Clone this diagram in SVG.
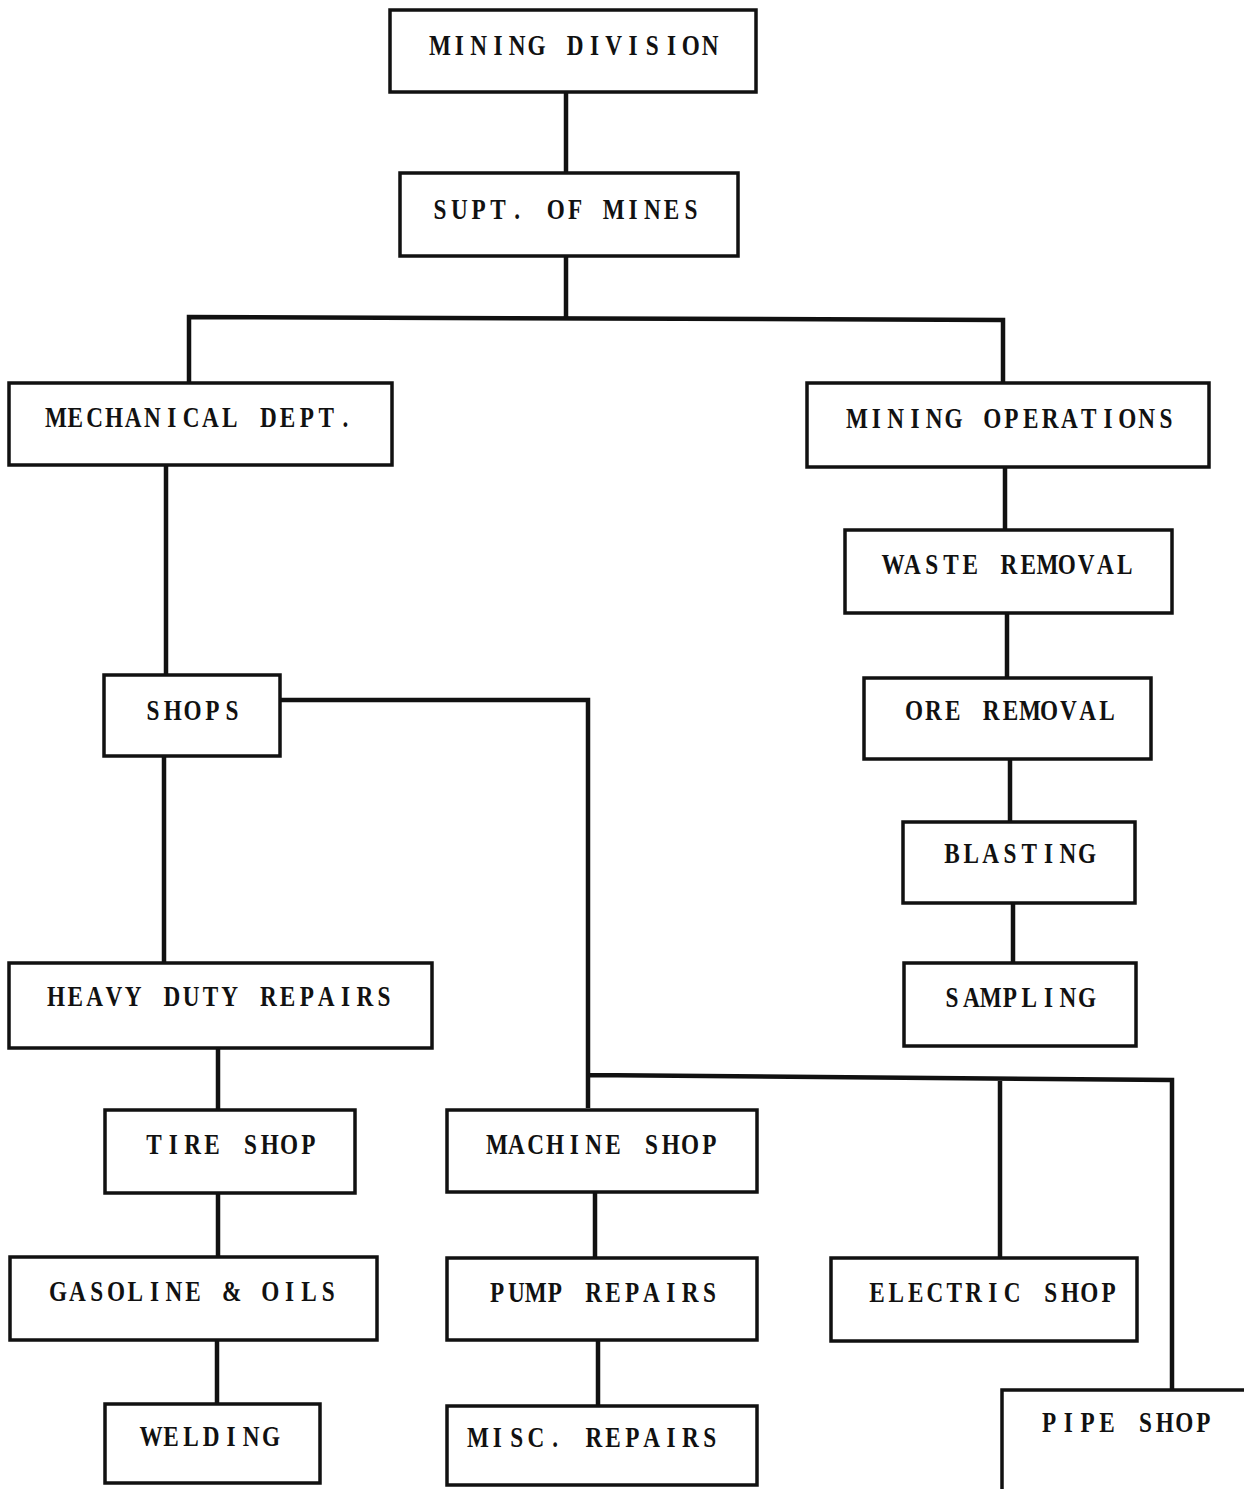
<svg xmlns="http://www.w3.org/2000/svg" width="1244" height="1489" viewBox="0 0 1244 1489">
<style>
.b{fill:#fff;stroke:#111;stroke-width:3.5}
.t{font-family:"Liberation Serif","Times New Roman",serif;font-weight:bold;font-size:29px;fill:#111;text-anchor:middle}
.c{fill:none;stroke:#111;stroke-width:4.5;stroke-linejoin:miter}
</style>
<rect width="1244" height="1489" fill="#fff"/>
<g id="connectors">
<path class="c" d="M566 92V173"/>
<path class="c" d="M566 256V318M189 383V317L1003 320V383"/>
<path class="c" d="M1005 467V530M1007 613V678M1010 759V822M1013 903V963"/>
<path class="c" d="M166 465V675M164 756V963"/>
<path class="c" d="M280 700H588V1108M588 1075L1172 1080V1390M1000 1078V1258"/>
<path class="c" d="M218 1048V1110M218 1193V1257M217 1340V1404"/>
<path class="c" d="M595 1192V1258M598 1340V1406"/>
</g>
<g id="n1"><rect class="b" x="390" y="10" width="366" height="82"/><text class="t" transform="scale(0.8,1)" y="55" x="550 574.1 598.3 622.4 646.5 670.6 694.8 718.9 743 767.1 791.3 815.4 839.5 863.6 887.8">MINING DIVISION</text></g>
<g id="n2"><rect class="b" x="400" y="173" width="338" height="83"/><text class="t" transform="scale(0.8,1)" y="219" x="550 574.1 598.3 622.4 646.5 670.6 694.8 718.9 743 767.1 791.3 815.4 839.5 863.6">SUPT. OF MINES</text></g>
<g id="n3"><rect class="b" x="9" y="383" width="383" height="82"/><text class="t" transform="scale(0.8,1)" y="427" x="70 94.1 118.3 142.4 166.5 190.6 214.8 238.9 263 287.1 311.3 335.4 359.5 383.6 407.8 431.9">MECHANICAL DEPT.</text></g>
<g id="n4"><rect class="b" x="807" y="383" width="402" height="84"/><text class="t" transform="scale(0.8,1)" y="428" x="1071.3 1095.4 1119.6 1143.7 1167.8 1191.9 1216.1 1240.2 1264.3 1288.4 1312.6 1336.7 1360.8 1384.9 1409.1 1433.2 1457.3">MINING OPERATIONS</text></g>
<g id="n5"><rect class="b" x="845" y="530" width="327" height="83"/><text class="t" transform="scale(0.8,1)" y="574" x="1116.3 1140.4 1164.6 1188.7 1212.8 1236.9 1261.1 1285.2 1309.3 1333.4 1357.6 1381.7 1405.8">WASTE REMOVAL</text></g>
<g id="n6"><rect class="b" x="864" y="678" width="287" height="81"/><text class="t" transform="scale(0.8,1)" y="720" x="1142.5 1166.6 1190.8 1214.9 1239 1263.1 1287.3 1311.4 1335.5 1359.6 1383.8">ORE REMOVAL</text></g>
<g id="n7"><rect class="b" x="903" y="822" width="232" height="81"/><text class="t" transform="scale(0.8,1)" y="863" x="1190 1214.1 1238.3 1262.4 1286.5 1310.6 1334.8 1358.9">BLASTING</text></g>
<g id="n8"><rect class="b" x="904" y="963" width="232" height="83"/><text class="t" transform="scale(0.8,1)" y="1007" x="1190 1214.1 1238.3 1262.4 1286.5 1310.6 1334.8 1358.9">SAMPLING</text></g>
<g id="n9"><rect class="b" x="104" y="675" width="176" height="81"/><text class="t" transform="scale(0.8,1)" y="720" x="191.3 215.9 240.6 265.3 290">SHOPS</text></g>
<g id="n10"><rect class="b" x="9" y="963" width="423" height="85"/><text class="t" transform="scale(0.8,1)" y="1006" x="70 94.1 118.3 142.4 166.5 190.6 214.8 238.9 263 287.1 311.3 335.4 359.5 383.6 407.8 431.9 456 480.1">HEAVY DUTY REPAIRS</text></g>
<g id="n11"><rect class="b" x="105" y="1110" width="250" height="83"/><text class="t" transform="scale(0.8,1)" y="1154" x="192.5 216.6 240.8 264.9 289 313.1 337.3 361.4 385.5">TIRE SHOP</text></g>
<g id="n12"><rect class="b" x="10" y="1257" width="367" height="83"/><text class="t" transform="scale(0.8,1)" y="1301" x="72.5 96.6 120.8 144.9 169 193.1 217.3 241.4 265.5 289.6 313.8 337.9 362 386.1 410.3">GASOLINE &amp; OILS</text></g>
<g id="n13"><rect class="b" x="105" y="1404" width="215" height="79"/><text class="t" transform="scale(0.8,1)" y="1446" x="188.8 213.8 238.8 263.8 288.8 313.8 338.8">WELDING</text></g>
<g id="n14"><rect class="b" x="447" y="1110" width="310" height="82"/><text class="t" transform="scale(0.8,1)" y="1154" x="621.3 645.4 669.6 693.7 717.8 741.9 766.1 790.2 814.3 838.4 862.6 886.7">MACHINE SHOP</text></g>
<g id="n15"><rect class="b" x="447" y="1258" width="310" height="82"/><text class="t" transform="scale(0.8,1)" y="1302" x="621.3 645.4 669.6 693.7 717.8 741.9 766.1 790.2 814.3 838.4 862.6 886.7">PUMP REPAIRS</text></g>
<g id="n16"><rect class="b" x="447" y="1406" width="310" height="79"/><text class="t" transform="scale(0.8,1)" y="1447" x="597.5 621.6 645.8 669.9 694 718.1 742.3 766.4 790.5 814.6 838.8 862.9 887">MISC. REPAIRS</text></g>
<g id="n17"><rect class="b" x="831" y="1258" width="306" height="83"/><text class="t" transform="scale(0.8,1)" y="1302" x="1096.3 1120.4 1144.6 1168.7 1192.8 1216.9 1241.1 1265.2 1289.3 1313.4 1337.6 1361.7 1385.8">ELECTRIC SHOP</text></g>
<g id="n18"><rect class="b" x="1002" y="1390" width="260" height="110"/><text class="t" transform="scale(0.8,1)" y="1432" x="1311.3 1335.4 1359.6 1383.7 1407.8 1431.9 1456.1 1480.2 1504.3">PIPE SHOP</text></g>
</svg>
